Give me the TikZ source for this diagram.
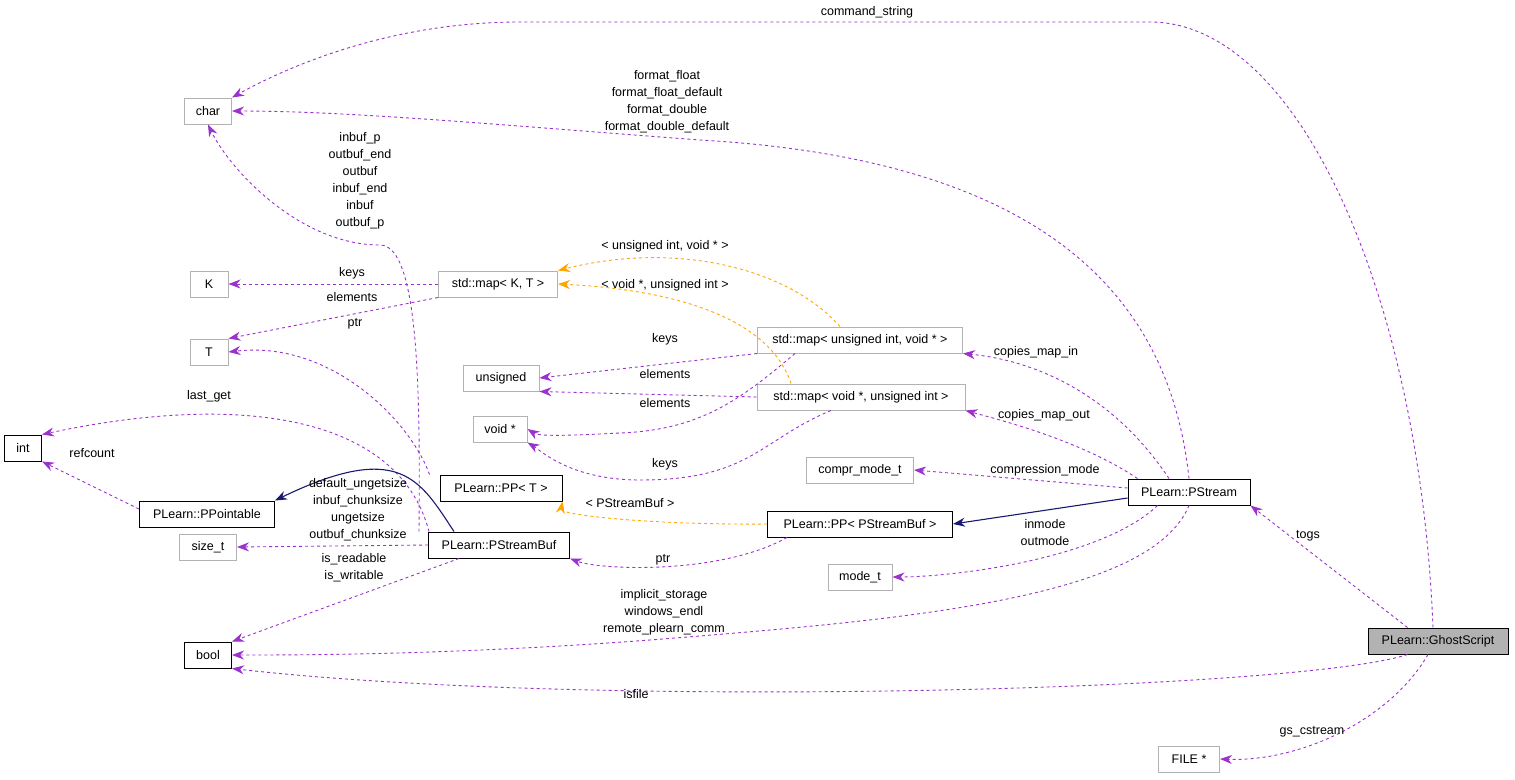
\documentclass[tikz,border=0pt]{standalone}
\usepackage{fontspec}
\setmainfont{Liberation Sans}
\usetikzlibrary{arrows.meta}
\definecolor{pu}{HTML}{9A32CD}
\definecolor{og}{HTML}{FFA500}
\definecolor{nv}{HTML}{191970}
\begin{document}
\begin{tikzpicture}[x=1pt,y=-1pt,font=\fontsize{12.5}{17}\selectfont,
 box/.style={draw=#1,fill=white,minimum height=26pt,inner xsep=6pt,line width=1pt},
 box/.default=black,
 gbox/.style={box=gray!60},
 rel/.style={draw=pu,dashed,line width=0.9pt,-{Stealth[length=12pt,width=9pt]}},
 tpl/.style={draw=og,dashed,line width=0.9pt,-{Stealth[length=12pt,width=9pt]}},
 inh/.style={draw=nv,line width=1.1pt,-{Stealth[length=12pt,width=9pt]}},
 lab/.style={align=center,inner sep=0pt}]
\useasboundingbox (0,0) rectangle (1515,779);
\node[gbox,minimum width=47pt] (char) at (208,111) {char};
\node[gbox,minimum width=38pt] (K) at (209,284) {K};
\node[gbox,minimum width=38pt] (T) at (209,352) {T};
\node[gbox,minimum width=76pt] (uns) at (501,378) {unsigned};
\node[gbox,minimum width=54pt] (void) at (500,429) {void *};
\node[box,minimum width=37pt] (int) at (23,448) {int};
\node[box,minimum width=135pt] (ppt) at (207,514) {PLearn::PPointable};
\node[gbox,minimum width=57pt] (size) at (208,547) {size\_t};
\node[box,minimum width=47pt] (bool) at (208,655) {bool};
\node[gbox,minimum width=119pt] (mapKT) at (498,284) {std::map< K, T >};
\node[gbox,minimum width=205pt] (mapUV) at (860,340) {std::map< unsigned int, void * >};
\node[gbox,minimum width=208pt] (mapVU) at (861,397) {std::map< void *, unsigned int >};
\node[gbox,minimum width=107pt] (compr) at (860,470) {compr\_mode\_t};
\node[box,minimum width=122pt] (ppT) at (501,488) {PLearn::PP< T >};
\node[box,minimum width=141pt] (psb) at (499,545) {PLearn::PStreamBuf};
\node[box,minimum width=185pt] (ppPSB) at (860,524) {PLearn::PP< PStreamBuf >};
\node[gbox,minimum width=64pt] (mode) at (860,577) {mode\_t};
\node[box,minimum width=122pt] (ps) at (1189,492) {PLearn::PStream};
\node[box,fill=gray!60,minimum width=140pt] (gs) at (1438,641) {PLearn::GhostScript};
\node[gbox,minimum width=61pt] (file) at (1189,759) {FILE *};

\draw[rel] (gs.north) ++(-5,0) .. controls (1420,300) and (1300,22) .. (1150,22) -- (520,22) .. controls (400,22) and (300,60) .. (char.north east);
\node[lab] at (867,12) {command\_string};
\draw[rel] (ps.north) .. controls (1170,300) and (1050,160) .. (700,140) .. controls (500,125) and (350,111) .. (char.east);
\node[lab] at (667,102) {format\_float\\format\_float\_default\\format\_double\\format\_double\_default};
\draw[rel] (psb.north) ++(-80,0) .. controls (420,400) and (420,245) .. (380,245) .. controls (300,245) and (230,170) .. (char.south);
\node[lab] at (360,181) {inbuf\_p\\outbuf\_end\\outbuf\\inbuf\_end\\inbuf\\outbuf\_p};
\draw[rel] (mapKT) -- (K); \node[lab] at (352,273) {keys};
\draw[rel] (mapKT.south west) -- (T.north east); \node[lab] at (352,297) {elements};
\draw[rel] (mapUV.south west) -- (uns.east); \node[lab] at (665,339) {keys};
\draw[rel] (mapVU.west) -- (uns.south east); \node[lab] at (665,374) {elements};
\draw[rel] (mapUV.south) ++(-65,0) .. controls (740,400) and (700,430) .. (620,433) .. controls (580,435) and (540,437) .. (void.east);
\node[lab] at (665,403) {elements};
\draw[rel] (mapVU.south) ++(-30,0) .. controls (760,440) and (750,480) .. (640,480) .. controls (570,480) and (540,450) .. (void.south east);
\node[lab] at (665,464) {keys};
\draw[tpl] (mapUV.north) ++(-20,0) .. controls (790,270) and (680,240) .. (mapKT.north east);
\node[lab] at (665,246) {< unsigned int, void * >};
\draw[tpl] (mapVU.north) ++(-70,0) .. controls (770,320) and (680,290) .. (mapKT.east);
\node[lab] at (665,285) {< void *, unsigned int >};
\draw[rel] (ppT.north west) ++(-10,0) .. controls (410,420) and (330,340) .. (T.east);
\node[lab] at (355,324) {ptr};
\draw[rel] (psb.north) ++(-70,0) .. controls (400,420) and (250,390) .. (int.north east);
\node[lab] at (209,396) {last\_get};
\draw[rel] (ppt.west) ++(0,-5) -- (int.south east); \node[lab] at (92,453) {refcount};
\draw[inh] (psb.north) ++(-45,0) .. controls (420,480) and (400,440) .. (ppt.north east);
\draw[rel] (psb.west) -- (size.east);
\node[lab] at (358,510) {default\_ungetsize\\inbuf\_chunksize\\ungetsize\\outbuf\_chunksize};
\draw[rel] (psb.south) ++(-40,0) -- (bool.north east);
\node[lab] at (354,568) {is\_readable\\is\_writable};
\draw[rel] (ps.south) .. controls (1150,600) and (900,620) .. (650,640) .. controls (450,655) and (300,655) .. (bool.east);
\node[lab] at (664,612) {implicit\_storage\\windows\_endl\\remote\_plearn\_comm};
\draw[rel] (gs.south west) ++(40,0) .. controls (1300,690) and (600,710) .. (bool.south east);
\node[lab] at (636,694) {isfile};
\draw[rel] (gs.north west) ++(40,0) -- (ps.south east); \node[lab] at (1308,536) {togs};
\draw[rel] (gs.south) ++(-10,0) .. controls (1390,720) and (1300,762) .. (file.east);
\node[lab] at (1312,732) {gs\_cstream};
\draw[rel] (ps.north) ++(-20,0) .. controls (1110,390) and (1030,360) .. (mapUV.south east);
\node[lab] at (1036,352) {copies\_map\_in};
\draw[rel] (ps.north west) ++(10,0) .. controls (1080,440) and (1000,420) .. (mapVU.south east);
\node[lab] at (1044,415) {copies\_map\_out};
\draw[rel] (ps.west) ++(0,-4) -- (compr.east); \node[lab] at (1045,470) {compression\_mode};
\draw[inh] (ps.west) ++(0,6) -- (ppPSB.east);
\draw[rel] (ps.south west) ++(30,0) .. controls (1100,560) and (950,577) .. (mode.east);
\node[lab] at (1045,533) {inmode\\outmode};
\draw[tpl] (ppPSB.west) .. controls (650,525) and (560,515) .. (ppT.south east);
\node[lab] at (630,503) {< PStreamBuf >};
\draw[rel] (ppPSB.south west) ++(20,0) .. controls (720,575) and (600,570) .. (psb.south east);
\node[lab] at (663,560) {ptr};
\end{tikzpicture}
\end{document}
